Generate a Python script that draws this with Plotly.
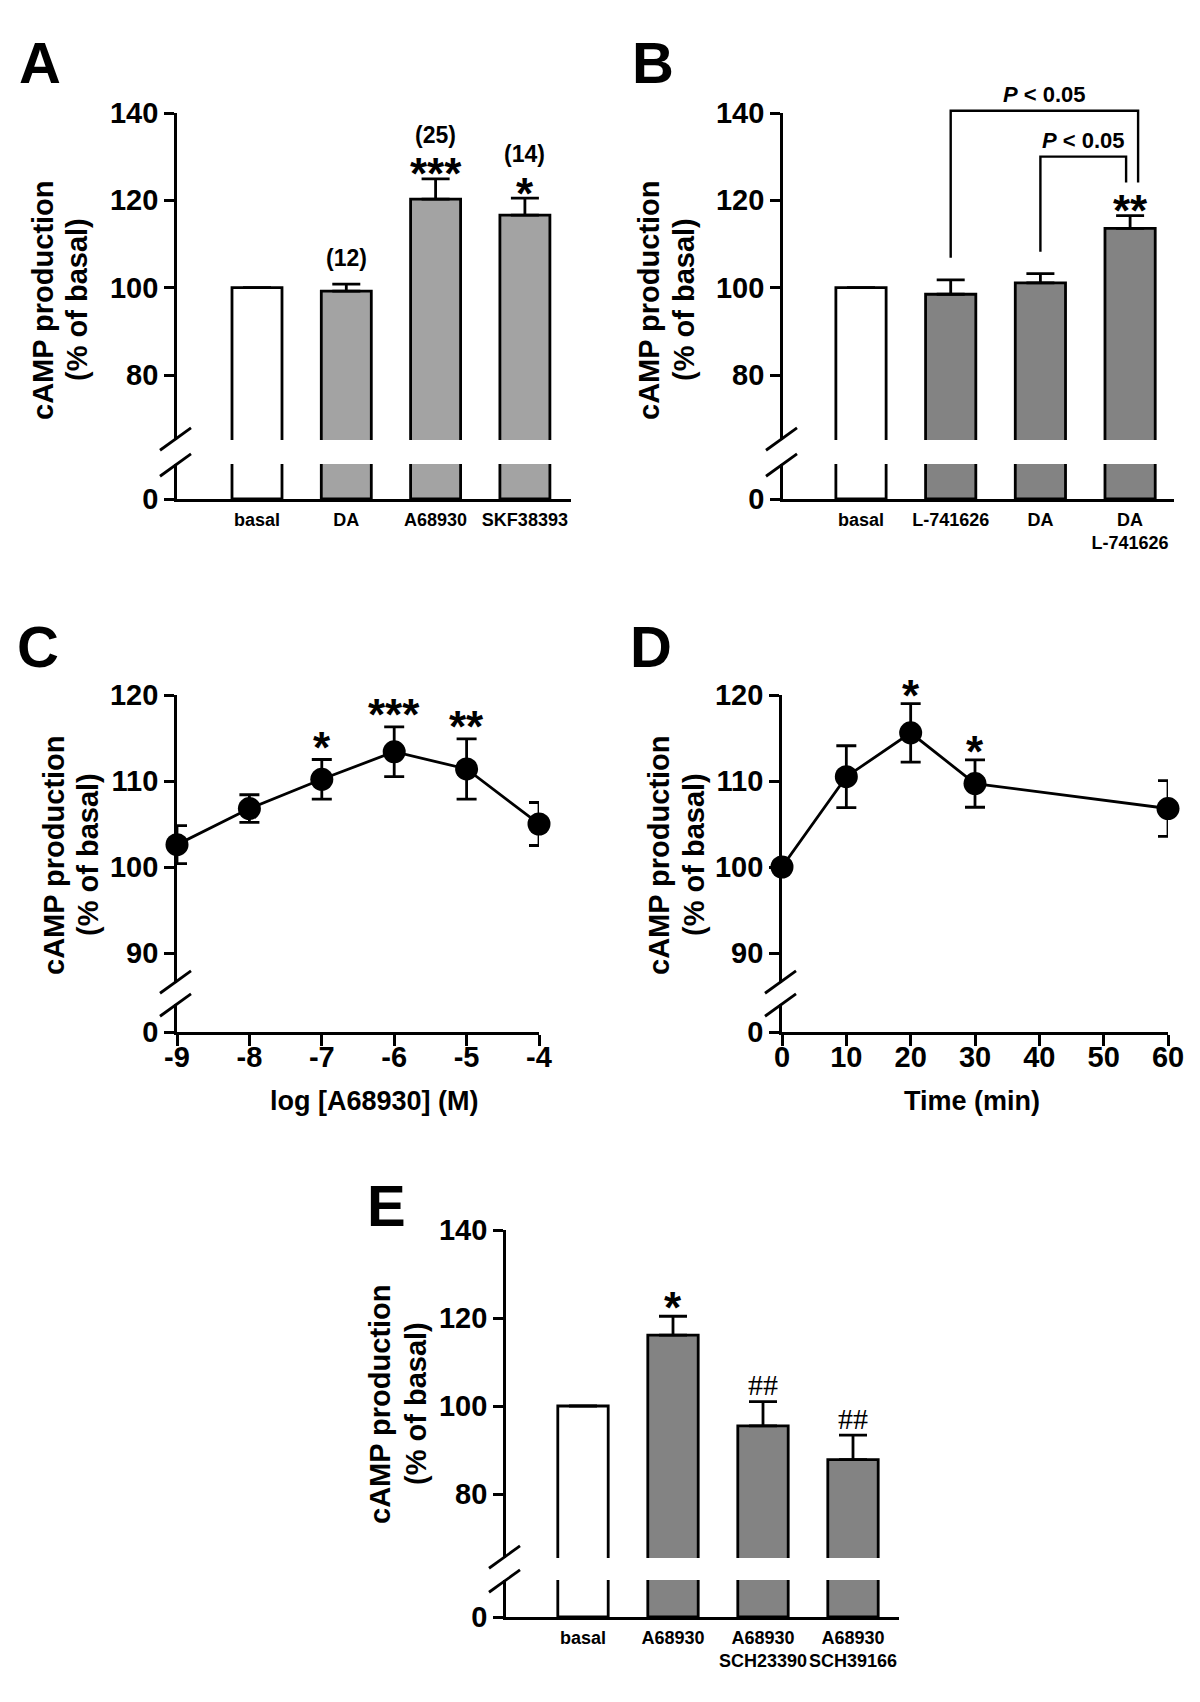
import plotly.graph_objects as go

W, H = 1200, 1702          # browser window
PAGE_MARGIN = 8            # default <body> margin of the written html page
FW, FH = W - 2 * PAGE_MARGIN, H - 2 * PAGE_MARGIN
FONT = "Liberation Sans, Arial, Helvetica, sans-serif"
SERIF = "Liberation Serif, Times New Roman, serif"

# ---------------- data ----------------
# Panel A
a_categories = ["basal", "DA", "A68930", "SKF38393"]
a_mean = [100.0, 99.2, 120.3, 116.6]
a_sem = [0.0, 1.6, 4.6, 3.9]
a_n = ["", "(12)", "(25)", "(14)"]
a_sig = ["", "", "***", "*"]

# Panel B
b_categories = ["basal", "L-741626", "DA", "DA<br>L-741626"]
b_mean = [100.0, 98.5, 101.1, 113.6]
b_sem = [0.0, 3.3, 2.1, 2.9]
b_sig = ["", "", "", "**"]
b_comparisons = [(1, 3, "<i>P</i> &lt; 0.05"), (2, 3, "<i>P</i> &lt; 0.05")]

# Panel C
c_log_conc = [-9, -8, -7, -6, -5, -4]
c_tick_labels = ["-9", "-8", "-7", "-6", "-5", "-4"]
c_mean = [102.6, 106.8, 110.2, 113.4, 111.4, 105.0]
c_sem = [2.2, 1.6, 2.3, 2.9, 3.5, 2.5]
c_sig = ["", "", "*", "***", "**", ""]

# Panel D
d_time = [0, 10, 20, 30, 60]
d_tick_values = [0, 10, 20, 30, 40, 50, 60]
d_mean = [100.0, 110.5, 115.6, 109.7, 106.8]
d_sem = [0.0, 3.6, 3.4, 2.75, 3.25]
d_sig = ["", "", "*", "*", ""]

# Panel E
e_categories = ["basal", "A68930", "A68930<br>SCH23390", "A68930<br>SCH39166"]
e_mean = [100.0, 116.1, 95.5, 87.8]
e_sem = [0.0, 4.3, 5.5, 5.6]
e_sig = ["", "*", "##", "##"]

y_title_lines = ["cAMP production", "(% of basal)"]

# ---------------- geometry / style (reference pixel coordinates) ----------------
LW = 2.8
TICKFONT = dict(family=FONT, size=29, color="black", weight="bold")
CATFONT = dict(family=FONT, size=18, color="black", weight="bold")

GEOM = {
    "A": dict(k=0, ax=177, xend=571, c0=257, step=89.3, bw=0.56, ytop=113, vtop=140, ppu=4.367,
              ub=440, lt=464, zero=499, yticks=[80, 100, 120, 140], letter=(40, 63),
              title=((43, 300), (77, 300)), fill="#a3a3a3"),
    "B": dict(k=1, ax=783, xend=1174, c0=861, step=89.7, bw=0.56, ytop=113, vtop=140, ppu=4.367,
              ub=440, lt=464, zero=499, yticks=[80, 100, 120, 140], letter=(653, 63),
              title=((649, 300), (684, 300)), fill="#838383"),
    "C": dict(k=2, ax=177, xend=539, xr=(-9, -4), xticks=c_log_conc, xticktext=c_tick_labels,
              ytop=695, vtop=120, ppu=8.6, ub=983, lt=1004, zero=1032, yticks=[90, 100, 110, 120],
              letter=(38, 647), title=((54, 855), (88, 855)), xtitle=(374, 1101)),
    "D": dict(k=3, ax=782, xend=1168, xr=(0, 60), xticks=d_tick_values, xticktext=None,
              ytop=695, vtop=120, ppu=8.6, ub=983, lt=1004, zero=1032, yticks=[90, 100, 110, 120],
              letter=(651, 647), title=((659, 855), (694, 855)), xtitle=(972, 1101)),
    "E": dict(k=4, ax=506, xend=899, c0=583, step=90.0, bw=0.56, ytop=1230, vtop=140, ppu=4.4,
              ub=1558, lt=1580, zero=1617, yticks=[80, 100, 120, 140], letter=(386, 1205),
              title=((380, 1404), (416, 1404)), fill="#838383"),
}


def xp(p):
    return (p - PAGE_MARGIN) / FW


def yp(p):
    return 1 - (p - PAGE_MARGIN) / FH


def ref(prefix, n):
    return prefix if n == 1 else f"{prefix}{n}"


def key(prefix, n):
    return f"{prefix}axis" if n == 1 else f"{prefix}axis{n}"


AXBASE = dict(showgrid=False, zeroline=False, showline=True, linecolor="black", linewidth=LW,
              ticks="outside", tickcolor="black", tickwidth=LW, ticklen=10, tickfont=TICKFONT,
              fixedrange=True, automargin=False, tickangle=0)

fig = go.Figure()
layout_axes = {}
shapes = []
annotations = []


def X(g, xv):
    r0, r1 = g["xrange"]
    return g["ax"] + (xv - r0) / (r1 - r0) * (g["xend"] - g["ax"])


def Y(g, v):
    return g["ytop"] + (g["vtop"] - v) * g["ppu"]


def text_at(px, py, text, size, family=FONT, bold=True, angle=0):
    annotations.append(dict(text=text, x=xp(px), y=yp(py), xref="paper", yref="paper", showarrow=False,
                            xanchor="center", yanchor="middle", textangle=angle,
                            font=dict(family=family, size=size, color="black",
                                      weight="bold" if bold else "normal")))


def setup(g, cats=None):
    k = g["k"]
    xn, yun, yln = k + 1, 2 * k + 1, 2 * k + 2
    if cats is not None:
        r0 = (g["ax"] - g["c0"]) / g["step"]
        r1 = (g["xend"] - g["c0"]) / g["step"]
    else:
        r0, r1 = g["xr"]
    g["xrange"] = (r0, r1)
    xa = dict(AXBASE, domain=[xp(g["ax"]), xp(g["xend"])], range=[r0, r1], anchor=ref("y", yln))
    if cats is not None:
        xa.update(ticks="", tickmode="array", tickvals=list(range(len(cats))), ticktext=cats,
                  tickfont=CATFONT, ticklabelstandoff=2)
    else:
        xa.update(tickmode="array", tickvals=g["xticks"], ticklen=11, ticklabelstandoff=-14)
        if g["xticktext"] is not None:
            xa.update(ticktext=g["xticktext"])
    layout_axes[key("x", xn)] = xa
    vlow = g["vtop"] - (g["ub"] - g["ytop"]) / g["ppu"]
    layout_axes[key("y", yun)] = dict(AXBASE, domain=[yp(g["ub"]), yp(g["ytop"])], range=[vlow, g["vtop"]],
                                     anchor=ref("x", xn), tickmode="array", tickvals=g["yticks"])
    layout_axes[key("y", yln)] = dict(AXBASE, domain=[yp(g["zero"]), yp(g["lt"])],
                                     range=[0, (g["zero"] - g["lt"]) / g["ppu"]],
                                     anchor=ref("x", xn), tickmode="array", tickvals=[0])
    g.update(xref=ref("x", xn), yuref=ref("y", yun), ylref=ref("y", yln))

    # axis-break slashes
    for py in (g["ub"] - 2, g["lt"]):
        x0, x1 = g["ax"] - 17, g["ax"] + 14
        shapes.append(dict(type="line", xref="paper", yref="paper",
                           x0=xp(x0), y0=yp(py + 17 * 0.72), x1=xp(x1), y1=yp(py - 14 * 0.72),
                           line=dict(color="black", width=LW)))
    text_at(g["letter"][0], g["letter"][1], g["name"], 58)
    for (tx, ty), line in zip(g["title"], y_title_lines):
        text_at(tx, ty, line, 29, angle=-90)


def add_bars(g, means, sems):
    xs = list(range(len(means)))
    colors = ["white"] + [g["fill"]] * (len(means) - 1)
    for yref, show_err in ((g["ylref"], False), (g["yuref"], True)):
        fig.add_trace(go.Bar(
            x=xs, y=means, width=g["bw"],
            marker=dict(color=colors, line=dict(color="black", width=LW)),
            error_y=dict(type="data", symmetric=False, array=sems, arrayminus=[0] * len(sems),
                         color="black", thickness=LW, width=14, visible=show_err),
            xaxis=g["xref"], yaxis=yref, showlegend=False, hoverinfo="skip"))


def add_line(g, xs, means, sems):
    fig.add_trace(go.Scatter(
        x=xs, y=means, mode="lines+markers", line=dict(color="black", width=LW),
        marker=dict(color="black", size=23),
        error_y=dict(type="data", array=sems, color="black", thickness=LW, width=10),
        cliponaxis=False, xaxis=g["xref"], yaxis=g["yuref"], showlegend=False, hoverinfo="skip"))
    # empty trace so that the lower (broken) part of the axis is created
    fig.add_trace(go.Scatter(x=[], y=[], mode="markers", xaxis=g["xref"], yaxis=g["ylref"],
                             showlegend=False, hoverinfo="skip"))
    text_at(g["xtitle"][0], g["xtitle"][1], g["xlabel"], 27)


def mark(g, xv, top_val, text, gap_px, size=44, family=FONT, bold=True, shift=9):
    # gap_px: distance between error-bar top and glyph centre; shift: glyph-centre correction
    text_at(X(g, xv), Y(g, top_val) - gap_px + shift, text, size, family=family, bold=bold)


for name, g in GEOM.items():
    g["name"] = name

# Panel A
gA = GEOM["A"]
setup(gA, a_categories)
add_bars(gA, a_mean, a_sem)
for i in range(len(a_mean)):
    top = a_mean[i] + a_sem[i]
    if a_sig[i]:
        mark(gA, i, top, a_sig[i], 14)
    if a_n[i]:
        mark(gA, i, top, a_n[i], 42 if a_sig[i] else 24, size=23, shift=-2)

# Panel B
gB = GEOM["B"]
setup(gB, b_categories)
add_bars(gB, b_mean, b_sem)
for i in range(len(b_mean)):
    if b_sig[i]:
        mark(gB, i, b_mean[i] + b_sem[i], b_sig[i], 14)
bracket_tops = [140.5, 130.0]
bracket_right_dx = [8, -4]
for (i, j, label), top, dx in zip(b_comparisons, bracket_tops, bracket_right_dx):
    xl = X(gB, i)
    xr = X(gB, j) + dx
    yl = Y(gB, b_mean[i] + b_sem[i]) - 22
    yr = Y(gB, b_mean[j] + b_sem[j]) - 33
    yt = Y(gB, top)
    shapes.append(dict(type="path", xref="paper", yref="paper",
                       path="M %f %f L %f %f L %f %f L %f %f" % (xp(xl), yp(yl), xp(xl), yp(yt), xp(xr), yp(yt),
                                                               xp(xr), yp(yr)),
                       line=dict(color="black", width=2.4)))
    text_at((xl + xr) / 2, yt - 16, label, 22)

# Panel C
gC = GEOM["C"]
gC["xlabel"] = "log [A68930] (M)"
setup(gC)
add_line(gC, c_log_conc, c_mean, c_sem)
for i in range(len(c_mean)):
    if c_sig[i]:
        mark(gC, c_log_conc[i], c_mean[i] + c_sem[i], c_sig[i], 21)

# Panel D
gD = GEOM["D"]
gD["xlabel"] = "Time (min)"
setup(gD)
add_line(gD, d_time, d_mean, d_sem)
for i in range(len(d_mean)):
    if d_sig[i]:
        mark(gD, d_time[i], d_mean[i] + d_sem[i], d_sig[i], 17)

# Panel E
gE = GEOM["E"]
setup(gE, e_categories)
add_bars(gE, e_mean, e_sem)
for i in range(len(e_mean)):
    if e_sig[i] == "*":
        mark(gE, i, e_mean[i] + e_sem[i], e_sig[i], 18)
    elif e_sig[i]:
        mark(gE, i, e_mean[i] + e_sem[i], e_sig[i], 17, size=30, family=SERIF, bold=False, shift=0)

fig.update_layout(width=FW, height=FH, margin=dict(l=0, r=0, t=0, b=0), paper_bgcolor="white",
                  plot_bgcolor="white", showlegend=False, shapes=shapes, annotations=annotations,
                  font=dict(family=FONT, color="black"), **layout_axes)

fig.write_html("out.html")
